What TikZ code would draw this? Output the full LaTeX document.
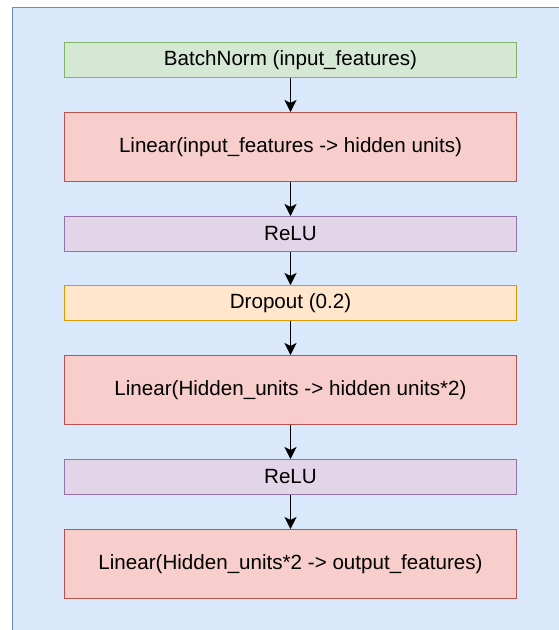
\documentclass[tikz,border=0pt]{standalone}
\usepackage{fontspec}
\setmainfont{Liberation Sans}
\usetikzlibrary{arrows.meta}

\definecolor{bgfill}{HTML}{DAE8FC}
\definecolor{bgline}{HTML}{6C8EBF}
\definecolor{grfill}{HTML}{D5E8D4}
\definecolor{grline}{HTML}{82B366}
\definecolor{rdfill}{HTML}{F8CECC}
\definecolor{rdline}{HTML}{B85450}
\definecolor{pufill}{HTML}{E1D5E7}
\definecolor{puline}{HTML}{9673A6}
\definecolor{orfill}{HTML}{FFE6CC}
\definecolor{orline}{HTML}{D79B00}

\tikzset{
  layer/.style={draw, line width=1pt, minimum width=452pt, inner sep=0pt,
    font=\fontsize{20.6}{23}\selectfont, anchor=north},
  thin/.style={layer, minimum height=35pt},
  tall/.style={layer, minimum height=69pt},
  norm/.style={fill=grfill, draw=grline},
  lin/.style={fill=rdfill, draw=rdline},
  act/.style={fill=pufill, draw=puline},
  drop/.style={fill=orfill, draw=orline},
  flow/.style={-{Stealth[length=12pt, width=12pt, inset=3pt]}, line width=1.4pt, black},
}

\begin{document}
\begin{tikzpicture}[x=1pt, y=-1pt]
  \useasboundingbox (0,0) rectangle (558,630);
  % container panel, running off the right and bottom edges
  \fill[bgfill] (12.5,7.5) rectangle (570,640);
  \draw[bgline, line width=1pt] (570,7.5) -- (12.5,7.5) -- (12.5,640);

  \node[thin, norm] (bn) at (290.5,42) {BatchNorm (input\_features)};
  \node[tall, lin]  (l1) at (290.5,112) {Linear(input\_features -> hidden units)};
  \node[thin, act]  (r1) at (290.5,216) {ReLU};
  \node[thin, drop] (dp) at (290.5,285) {Dropout (0.2)};
  \node[tall, lin]  (l2) at (290.5,355) {Linear(Hidden\_units -> hidden units*2)};
  \node[thin, act]  (r2) at (290.5,459) {ReLU};
  \node[tall, lin]  (l3) at (290.5,529) {Linear(Hidden\_units*2 -> output\_features)};

  \draw[flow] (bn) -- (l1);
  \draw[flow] (l1) -- (r1);
  \draw[flow] (r1) -- (dp);
  \draw[flow] (dp) -- (l2);
  \draw[flow] (l2) -- (r2);
  \draw[flow] (r2) -- (l3);
\end{tikzpicture}
\end{document}
